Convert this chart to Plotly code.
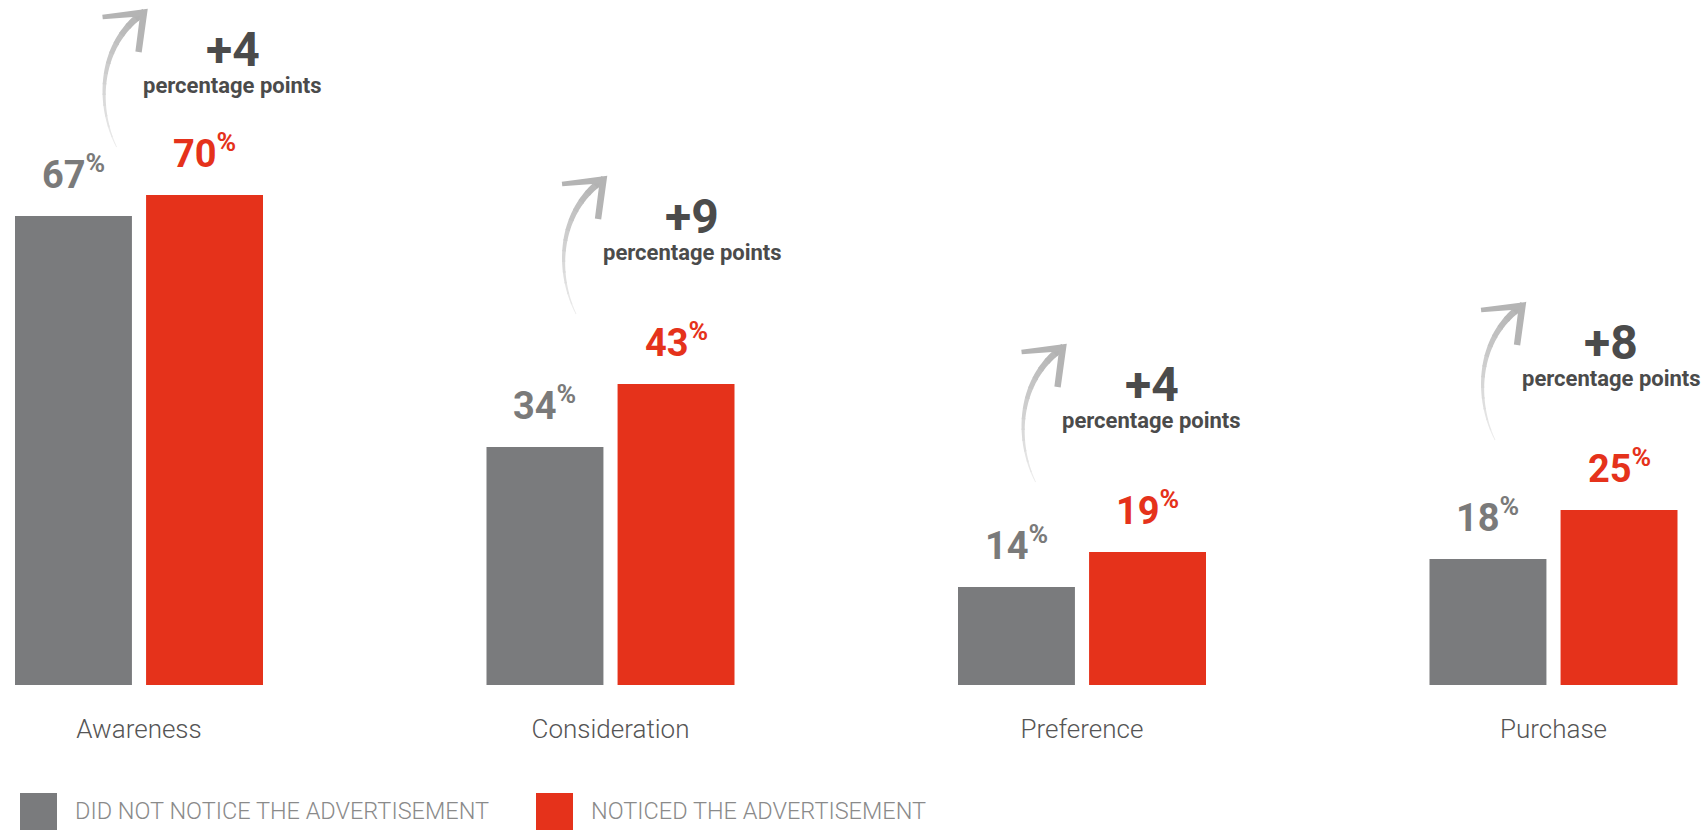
import numpy as np
import plotly.graph_objects as go

# ---- data -------------------------------------------------------------
categories = ["Awareness", "Consideration", "Preference", "Purchase"]
did_not_notice = [67, 34, 14, 18]
noticed = [70, 43, 19, 25]
lift_points = [4, 9, 4, 8]
series_names = ["DID NOT NOTICE THE ADVERTISEMENT", "NOTICED THE ADVERTISEMENT"]

# ---- style ------------------------------------------------------------
W, H = 1704, 832
GRAY = "#7a7b7d"
RED = "#e5321b"
DARK = "#4b4b4b"
FONT = "Roboto"

BAR_W = 0.248     # bar width in category units
SHIFT = 0.139     # distance of each bar centre from the category centre
Y_BASE_PX = 685   # pixel row of the zero line
PX_PER_PCT = 7.0  # vertical pixels per percentage point

xpos = list(range(len(categories)))

fig = go.Figure()
fig.add_bar(x=xpos, y=did_not_notice, width=BAR_W, offset=-SHIFT - BAR_W / 2,
            marker=dict(color=GRAY, line=dict(width=0)), name=series_names[0],
            hoverinfo="skip")
fig.add_bar(x=xpos, y=noticed, width=BAR_W, offset=SHIFT - BAR_W / 2,
            marker=dict(color=RED, line=dict(width=0)), name=series_names[1],
            hoverinfo="skip")


# ---- curved arrow (pixel geometry relative to its anchor) ---------------
def cubic(p, t):
    t = np.asarray(t)[:, None]
    return ((1 - t) ** 3) * p[0] + 3 * ((1 - t) ** 2) * t * p[1] + 3 * (1 - t) * t ** 2 * p[2] + t ** 3 * p[3]


def cubic_d(p, t):
    t = np.asarray(t)[:, None]
    return 3 * ((1 - t) ** 2) * (p[1] - p[0]) + 6 * (1 - t) * t * (p[2] - p[1]) + 3 * t ** 2 * (p[3] - p[2])


def path_of(points):
    return "M " + " L ".join(f"{px:.2f},{py:.2f}" for px, py in points) + " Z"


def mix(c0, c1, f):
    a = np.array([int(c0[i:i + 2], 16) for i in (1, 3, 5)])
    b = np.array([int(c1[i:i + 2], 16) for i in (1, 3, 5)])
    c = np.round(a + (b - a) * f).astype(int)
    return "#%02x%02x%02x" % tuple(c)


def arrow_pieces(ox, oy):
    ctrl = np.array([[0, 0], [-22, 45], [-16, 105], [28, 135]], dtype=float)
    ctrl += np.array([ox, oy])
    pieces = []
    nseg = 14
    for k in range(nseg):
        t0, t1 = k / nseg, min(1.0, (k + 1.15) / nseg)
        ts = np.linspace(t0, t1, 8)
        pts = cubic(ctrl, ts)
        d = cubic_d(ctrl, ts)
        d /= np.linalg.norm(d, axis=1)[:, None]
        nrm = np.stack([-d[:, 1], d[:, 0]], axis=1)
        hw = (0.4 + 3.2 * ts)[:, None]
        left = pts + nrm * hw
        right = pts - nrm * hw
        poly = list(left) + list(right[::-1])
        pieces.append((path_of(poly), mix("#eeeeee", "#b0b0b0", (k + 0.5) / nseg)))

    # arrow head: two tapered arms meeting at the tip
    T = ctrl[3]
    L = T + np.array([-42, -5])
    R = T + np.array([-6, -40])
    u1 = (L - T) / np.linalg.norm(L - T)
    u2 = (R - T) / np.linalg.norm(R - T)
    n1 = np.array([-u1[1], u1[0]])
    if np.dot(n1, u2) > 0:
        n1 = -n1
    n2 = np.array([-u2[1], u2[0]])
    if np.dot(n2, u1) > 0:
        n2 = -n2
    bis = (u1 + u2) / np.linalg.norm(u1 + u2)
    head = [L + n1 * 2.2, T - bis * 4.5, R + n2 * 3.2, R - n2 * 3.2,
            T + bis * 6.5, L - n1 * 2.2]
    pieces.append((path_of(head), "#b4b4b4"))
    return pieces


# callout placement: the group sits up-left of the red bar, drifting a little
# left for each category further right, and is lifted higher when there is room
ARROW_DX, ARROW_DY = -88, 48
LIFT_DX, DRIFT = 28, -12
annotations = []
for i, v in enumerate(noticed):
    top_px = Y_BASE_PX - v * PX_PER_PCT
    extra = float(np.clip(top_px - 195, 0, 22))
    drift = DRIFT * i
    for p, col in arrow_pieces(ARROW_DX + drift, ARROW_DY + extra):
        fig.add_shape(type="path", path=p, xref="x", yref="y",
                      xsizemode="pixel", ysizemode="pixel",
                      xanchor=xpos[i] + SHIFT, yanchor=v,
                      fillcolor=col, line=dict(width=0), layer="above")
    annotations.append(dict(
        x=i + SHIFT, y=v, xref="x", yref="y", xshift=LIFT_DX + drift,
        yshift=146 + extra, text=f"+{lift_points[i]}", showarrow=False,
        font=dict(family=FONT, size=48, color=DARK, weight=700),
        xanchor="center", yanchor="middle"))
    annotations.append(dict(
        x=i + SHIFT, y=v, xref="x", yref="y", xshift=LIFT_DX + drift,
        yshift=110 + extra, text="percentage points", showarrow=False,
        font=dict(family=FONT, size=22, color=DARK, weight=700),
        xanchor="center", yanchor="middle"))

# ---- value labels -------------------------------------------------------
for i in xpos:
    for vals, off, col in ((did_not_notice, -SHIFT, "#7a7a7a"), (noticed, SHIFT, RED)):
        annotations.append(dict(
            x=i + off, y=vals[i], xref="x", yref="y", yshift=44,
            text=f"{vals[i]}<sup>%</sup>", showarrow=False,
            font=dict(family=FONT, size=38, color=col, weight=700),
            xanchor="center", yanchor="middle"))

# ---- legend -------------------------------------------------------------
legend_items = [(series_names[0], GRAY, 20, 73), (series_names[1], RED, 536, 589)]
for label, col, sq_x, tx_x in legend_items:
    fig.add_shape(type="rect", xref="paper", yref="paper",
                  x0=sq_x / W, x1=(sq_x + 37) / W,
                  y0=1 - 830 / H, y1=1 - 793 / H,
                  fillcolor=col, line=dict(width=0))
    annotations.append(dict(
        x=tx_x / W, y=1 - 811 / H, xref="paper", yref="paper",
        text=label, showarrow=False, xanchor="left", yanchor="middle",
        font=dict(family=FONT, size=23.5, color="#8a8a8a", weight=300)))

x_px_left, x_px_right = 139, 1553.5
ppu = (x_px_right - x_px_left) / (len(categories) - 1)
x_range = [-x_px_left / ppu, (W - x_px_left) / ppu]

fig.update_layout(
    width=W, height=H,
    margin=dict(l=0, r=0, t=0, b=0, pad=0),
    paper_bgcolor="white", plot_bgcolor="white",
    barmode="overlay", showlegend=False, hovermode=False,
    annotations=annotations,
    xaxis=dict(range=x_range, tickvals=xpos, ticktext=categories,
               showgrid=False, zeroline=False, showline=False, ticks="",
               ticklabelstandoff=26, automargin=False,
               tickfont=dict(family=FONT, size=26, color="#555555", weight=300),
               fixedrange=True),
    yaxis=dict(domain=[1 - Y_BASE_PX / H, 1], range=[0, Y_BASE_PX / PX_PER_PCT],
               visible=False, fixedrange=True),
)

fig.write_html("out.html", config={"displayModeBar": False})
